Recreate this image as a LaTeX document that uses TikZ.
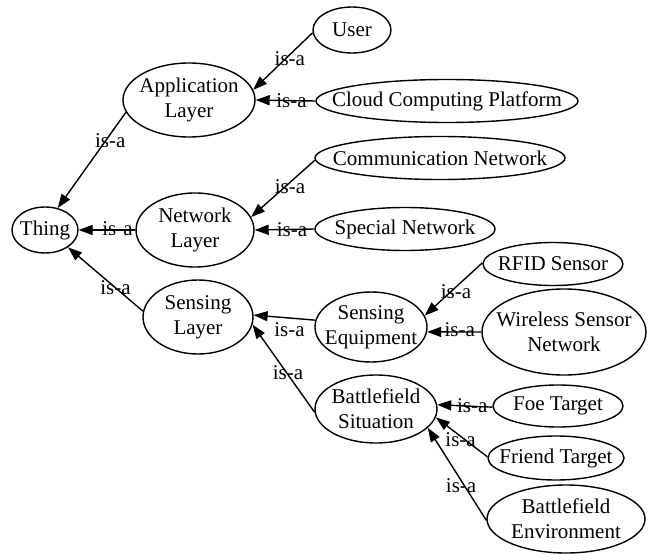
\documentclass[tikz,border=0pt]{standalone}
\usepackage{fontspec}
\setmainfont{Liberation Serif}
\usetikzlibrary{arrows.meta,shapes.geometric}
\begin{document}
\begin{tikzpicture}[x=1pt,y=-1pt,line width=1.4pt,font=\fontsize{21}{25}\selectfont,
  concept/.style={draw,ellipse,inner sep=-40pt,align=center},
  isa/.style={-{Triangle[length=14pt,width=10pt]}},
  lbl/.style={inner sep=0pt}]
\useasboundingbox (0,0) rectangle (654,554);
% classes
\node[concept, minimum width=66, minimum height=46] (thing) at (45,230) {Thing};
\node[concept, minimum width=132, minimum height=74] (app) at (189,100) {Application\\Layer};
\node[concept, minimum width=118, minimum height=74] (net) at (195,230) {Network\\Layer};
\node[concept, minimum width=110, minimum height=74] (sens) at (198,317) {Sensing\\Layer};
\node[concept, minimum width=78, minimum height=46] (user) at (352,30) {User};
\node[concept, minimum width=262, minimum height=43] (cloud) at (447,101) {Cloud Computing Platform};
\node[concept, minimum width=250, minimum height=43] (comm) at (440,158) {Communication Network};
\node[concept, minimum width=180, minimum height=43] (special) at (405,229) {Special Network};
\node[concept, minimum width=140, minimum height=43] (rfid) at (553,264) {RFID Sensor};
\node[concept, minimum width=112, minimum height=70] (equip) at (371,327) {Sensing\\Equipment};
\node[concept, minimum width=164, minimum height=86] (wsn) at (564,332) {Wireless Sensor\\Network};
\node[concept, minimum width=122, minimum height=68] (situ) at (376,409) {Battlefield\\Situation};
\node[concept, minimum width=130, minimum height=42] (foe) at (558,406) {Foe Target};
\node[concept, minimum width=136, minimum height=44] (friend) at (556,458) {Friend Target};
\node[concept, minimum width=158, minimum height=68] (env) at (566,519) {Battlefield\\Environment};
% is-a relations
\draw[isa] (app.191) -- (thing.60) node[midway, lbl, xshift=18.5, yshift=20] (isa1) {is-a};
\draw[isa] (net.180) -- (thing.0) node[midway, lbl, xshift=10.5, yshift=1] (isa2) {is-a};
\draw[isa] (sens.174) -- (thing.-37) node[midway, lbl, xshift=10, yshift=-8.5] (isa3) {is-a};
\draw[isa] (user.184) -- (app.9) node[midway, lbl, xshift=7, yshift=2.5] (isa4) {is-a};
\draw[isa] (cloud.180) -- (app.0) node[midway, lbl, xshift=6] (isa5) {is-a};
\draw[isa] (comm.181) -- (net.13) node[midway, lbl, xshift=7, yshift=1.5] (isa6) {is-a};
\draw[isa] (special.180) -- (net.0) node[midway, lbl, xshift=7.5] (isa7) {is-a};
\draw[isa] (equip.173) -- (sens.2) node[midway, lbl, xshift=5, yshift=-12.5] (isa8) {is-a};
\draw[isa] (situ.183) -- (sens.-8) node[midway, lbl, xshift=4.5, yshift=-4.5] (isa9) {is-a};
\draw[isa] (rfid.179) -- (equip.12) node[midway, lbl, xshift=2.5, yshift=-2] (isa10) {is-a};
\draw[isa] (wsn.180) -- (equip.-5) node[midway, lbl, xshift=5.5, yshift=2] (isa11) {is-a};
\draw[isa] (foe.181) -- (situ.4) node[midway, lbl, xshift=7.5] (isa12) {is-a};
\draw[isa] (friend.179) -- (situ.-8) node[midway, lbl, xshift=-1, yshift=-2.5] (isa13) {is-a};
\draw[isa] (env.181) -- (situ.-20) node[midway, lbl, xshift=4, yshift=-11.5] (isa14) {is-a};
\end{tikzpicture}
\end{document}
